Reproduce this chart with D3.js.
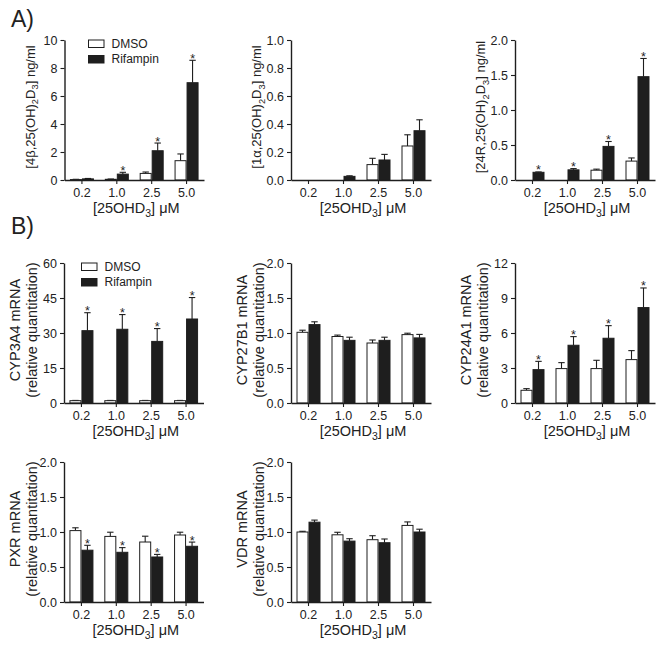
<!DOCTYPE html>
<html><head><meta charset="utf-8">
<script src="https://cdn.jsdelivr.net/npm/d3@7"></script>
<style>
body{margin:0;background:#fff;}
svg{display:block;font-family:"Liberation Sans",Arial,sans-serif;}
</style></head>
<body>
<svg id="chart" width="662" height="645"></svg>
<script>
const doses = ["0.2","1.0","2.5","5.0"];
const seriesNames = ["DMSO","Rifampin"];

// Panel A1: 4β,25(OH)2D3
const a1Dmso = [0.03,0.05,0.47,1.38], a1DmsoErr = [0.02,0.02,0.1,0.48];
const a1Rif = [0.08,0.42,2.09,6.95],  a1RifErr = [0.03,0.13,0.55,1.6];
const a1Star = [0,1,1,1];
const a1Ticks = [0,2,4,6,8,10];
// Panel A2: 1α,25(OH)2D3
const a2Dmso = [0,0,0.11,0.243], a2DmsoErr = [0,0,0.045,0.08];
const a2Rif = [0,0.026,0.143,0.352], a2RifErr = [0,0.004,0.04,0.078];
const a2Star = [0,0,0,0];
const a2Ticks = [0,0.2,0.4,0.6,0.8,1.0];
// Panel A3: 24R,25(OH)2D3
const a3Dmso = [0,0,0.14,0.27], a3DmsoErr = [0,0,0.015,0.045];
const a3Rif = [0.11,0.145,0.48,1.476], a3RifErr = [0.005,0.018,0.07,0.26];
const a3Star = [1,1,1,1];
const a3Ticks = [0,0.5,1.0,1.5,2.0];
// Panel B1: CYP3A4
const b1Dmso = [1,1,1,1], b1DmsoErr = [0.1,0.1,0.1,0.1];
const b1Rif = [31,31.6,26.4,36], b1RifErr = [7.7,6.3,5.5,9.2];
const b1Star = [1,1,1,1];
const b1Ticks = [0,15,30,45,60];
// Panel B2: CYP27B1
const b2Dmso = [1.01,0.95,0.857,0.977], b2DmsoErr = [0.03,0.02,0.043,0.02];
const b2Rif = [1.12,0.895,0.895,0.93], b2RifErr = [0.04,0.045,0.045,0.05];
const b2Star = [0,0,0,0];
// Panel B3: CYP24A1
const b3Dmso = [1.09,2.95,2.95,3.72], b3DmsoErr = [0.14,0.51,0.71,0.77];
const b3Rif = [2.86,4.95,5.55,8.18], b3RifErr = [0.71,0.74,1.08,1.68];
const b3Star = [1,1,1,1];
const b3Ticks = [0,3,6,9,12];
// Panel B4: PXR
const b4Dmso = [1.02,0.937,0.857,0.957], b4DmsoErr = [0.04,0.06,0.083,0.04];
const b4Rif = [0.74,0.71,0.643,0.796], b4RifErr = [0.07,0.067,0.037,0.06];
const b4Star = [1,1,1,1];
// Panel B5: VDR
const b5Dmso = [1.0,0.96,0.89,1.094], b5DmsoErr = [0.01,0.036,0.057,0.05];
const b5Rif = [1.14,0.87,0.847,1.0], b5RifErr = [0.03,0.034,0.053,0.04];
const b5Star = [0,0,0,0];
const mrnaTicks = [0,0.5,1.0,1.5,2.0];

const svg = d3.select("#chart");
const INK = "#1e1e1e";

// helper: text with subscripts; parts = [[text, isSub], ...]
function richText(sel, parts, size) {
  let shifted = 0;
  parts.forEach(([t, sub]) => {
    const target = sub ? size*0.3 : 0;
    sel.append("tspan")
      .attr("font-size", sub ? size*0.72 : size)
      .attr("dy", target - shifted)
      .text(t);
    shifted = target;
  });
}

const xTitle = [["[25OHD",0],["3",1],["] \u03BCM",0]];

function panel(cfg) {
  const x = d3.scaleBand().domain(doses).range([cfg.x0, cfg.x1]);
  const y = d3.scaleLinear().domain([0, cfg.ymax]).range([cfg.y1, cfg.y0]);
  const g = svg.append("g");
  const bw = 12;
  const series = [
    {vals: cfg.dmso, errs: cfg.dmsoErr, fill: "#ffffff", off: -bw, star: null},
    {vals: cfg.rif, errs: cfg.rifErr, fill: INK, off: 0, star: cfg.star}
  ];
  series.forEach(s => {
    const data = doses.map((d, i) => ({d, v: s.vals[i], e: s.errs[i], st: s.star ? s.star[i] : 0}));
    data.filter(o => o.e > 0 && o.v > 0).forEach(o => {
      const cx = x(o.d) + x.bandwidth()/2 + s.off + bw/2;
      g.append("line").attr("x1", cx).attr("x2", cx)
        .attr("y1", y(o.v)).attr("y2", y(o.v + o.e))
        .attr("stroke", INK).attr("stroke-width", 1.1);
      g.append("line").attr("x1", cx - 3.2).attr("x2", cx + 3.2)
        .attr("y1", y(o.v + o.e)).attr("y2", y(o.v + o.e))
        .attr("stroke", INK).attr("stroke-width", 1.1);
    });
    g.selectAll(null).data(data.filter(o => o.v > 0)).join("rect")
      .attr("x", o => x(o.d) + x.bandwidth()/2 + s.off + 0.5)
      .attr("width", bw - 1)
      .attr("y", o => y(o.v))
      .attr("height", o => y(0) - y(o.v))
      .attr("fill", s.fill)
      .attr("stroke", INK).attr("stroke-width", 1);
    g.selectAll(null).data(data.filter(o => o.st)).join("text")
      .attr("x", o => x(o.d) + x.bandwidth()/2 + s.off + bw/2)
      .attr("y", o => y(o.v + o.e) + 2.5)
      .attr("text-anchor", "middle").attr("font-size", 12.5).attr("fill", INK)
      .text("*");
  });

  const yAxis = d3.axisLeft(y).tickValues(cfg.ticks).tickFormat(cfg.fmt)
    .tickSize(4).tickPadding(3).tickSizeOuter(0);
  const ya = g.append("g").attr("transform", `translate(${cfg.x0},0)`).call(yAxis);
  const xAxis = d3.axisBottom(x).tickSize(4).tickPadding(4).tickSizeOuter(0);
  const xa = g.append("g").attr("transform", `translate(0,${cfg.y1})`).call(xAxis);
  [ya, xa].forEach(a => {
    a.attr("font-size", 12.5).attr("font-family", "Liberation Sans, Arial, sans-serif");
    a.select(".domain").attr("stroke", INK).attr("stroke-width", 1.4);
    a.selectAll(".tick line").attr("stroke", INK).attr("stroke-width", 1.1);
    a.selectAll(".tick text").attr("font-size", 12.5).attr("fill", "#222");
  });

  const xt = g.append("text").attr("x", (cfg.x0 + cfg.x1)/2 + 2).attr("y", cfg.y1 + 33)
    .attr("font-size", 14.5).attr("text-anchor", "middle").attr("fill", "#222");
  richText(xt, xTitle, 14.5);

  const cy = (cfg.y0 + cfg.y1)/2 - 3;
  cfg.ylab.forEach(line => {
    const t = g.append("text")
      .attr("transform", `translate(${cfg.x0 + line.off},${cy}) rotate(-90)`)
      .attr("font-size", line.size)
      .attr("text-anchor", "middle").attr("fill", "#222");
    richText(t, line.parts, line.size);
  });

  if (cfg.legend) {
    const lx = cfg.legend.x, ly = cfg.legend.y;
    const fills = ["#ffffff", INK];
    seriesNames.forEach((n, i) => {
      g.append("rect").attr("x", lx).attr("y", ly + i*15.5 - 7.5).attr("width", 15.5).attr("height", 7.5)
        .attr("fill", fills[i]).attr("stroke", INK).attr("stroke-width", 1);
      g.append("text").attr("x", lx + 23).attr("y", ly + i*15.5).attr("font-size", 12)
        .attr("fill", "#222").text(n);
    });
  }
}

const f0 = d3.format(".1f"), fi = d3.format("d");
const rq = {off: -27, size: 14.5, parts: [["(relative quantitation)",0]]};

panel({x0:64.5, x1:204, y0:40, y1:180, ymax:10, ticks:a1Ticks, fmt:fi,
  dmso:a1Dmso, dmsoErr:a1DmsoErr, rif:a1Rif, rifErr:a1RifErr, star:a1Star,
  ylab:[{off:-30, size:13, parts:[["[4\u03B2,25(OH)",0],["2",1],["D",0],["3",1],["] ng/ml",0]]}],
  legend:{x:88.5, y:47.5}});
panel({x0:291, x1:431, y0:40, y1:180, ymax:1, ticks:a2Ticks, fmt:f0,
  dmso:a2Dmso, dmsoErr:a2DmsoErr, rif:a2Rif, rifErr:a2RifErr, star:a2Star,
  ylab:[{off:-30, size:13, parts:[["[1\u03B1,25(OH)",0],["2",1],["D",0],["3",1],["] ng/ml",0]]}]});
panel({x0:515, x1:655, y0:40, y1:180, ymax:2, ticks:a3Ticks, fmt:f0,
  dmso:a3Dmso, dmsoErr:a3DmsoErr, rif:a3Rif, rifErr:a3RifErr, star:a3Star,
  ylab:[{off:-30, size:13, parts:[["[24R,25(OH)",0],["2",1],["D",0],["3",1],["] ng/ml",0]]}]});

panel({x0:64, x1:203.5, y0:263, y1:403, ymax:60, ticks:b1Ticks, fmt:fi,
  dmso:b1Dmso, dmsoErr:b1DmsoErr, rif:b1Rif, rifErr:b1RifErr, star:b1Star,
  ylab:[{off:-44, size:14.5, parts:[["CYP3A4 mRNA",0]]}, rq],
  legend:{x:81.5, y:270.5}});
panel({x0:291, x1:431, y0:263, y1:403, ymax:2, ticks:mrnaTicks, fmt:f0,
  dmso:b2Dmso, dmsoErr:b2DmsoErr, rif:b2Rif, rifErr:b2RifErr, star:b2Star,
  ylab:[{off:-44, size:14.5, parts:[["CYP27B1 mRNA",0]]}, rq]});
panel({x0:515, x1:655, y0:263, y1:403, ymax:12, ticks:b3Ticks, fmt:fi,
  dmso:b3Dmso, dmsoErr:b3DmsoErr, rif:b3Rif, rifErr:b3RifErr, star:b3Star,
  ylab:[{off:-44, size:14.5, parts:[["CYP24A1 mRNA",0]]}, rq]});
panel({x0:64, x1:203.5, y0:462, y1:602, ymax:2, ticks:mrnaTicks, fmt:f0,
  dmso:b4Dmso, dmsoErr:b4DmsoErr, rif:b4Rif, rifErr:b4RifErr, star:b4Star,
  ylab:[{off:-44, size:14.5, parts:[["PXR mRNA",0]]}, rq]});
panel({x0:291, x1:431, y0:462, y1:602, ymax:2, ticks:mrnaTicks, fmt:f0,
  dmso:b5Dmso, dmsoErr:b5DmsoErr, rif:b5Rif, rifErr:b5RifErr, star:b5Star,
  ylab:[{off:-44, size:14.5, parts:[["VDR mRNA",0]]}, rq]});

svg.append("text").attr("x", 11).attr("y", 27).attr("font-size", 23).attr("fill", "#222").text("A)");
svg.append("text").attr("x", 11).attr("y", 234).attr("font-size", 23).attr("fill", "#222").text("B)");
</script>
</body></html>
